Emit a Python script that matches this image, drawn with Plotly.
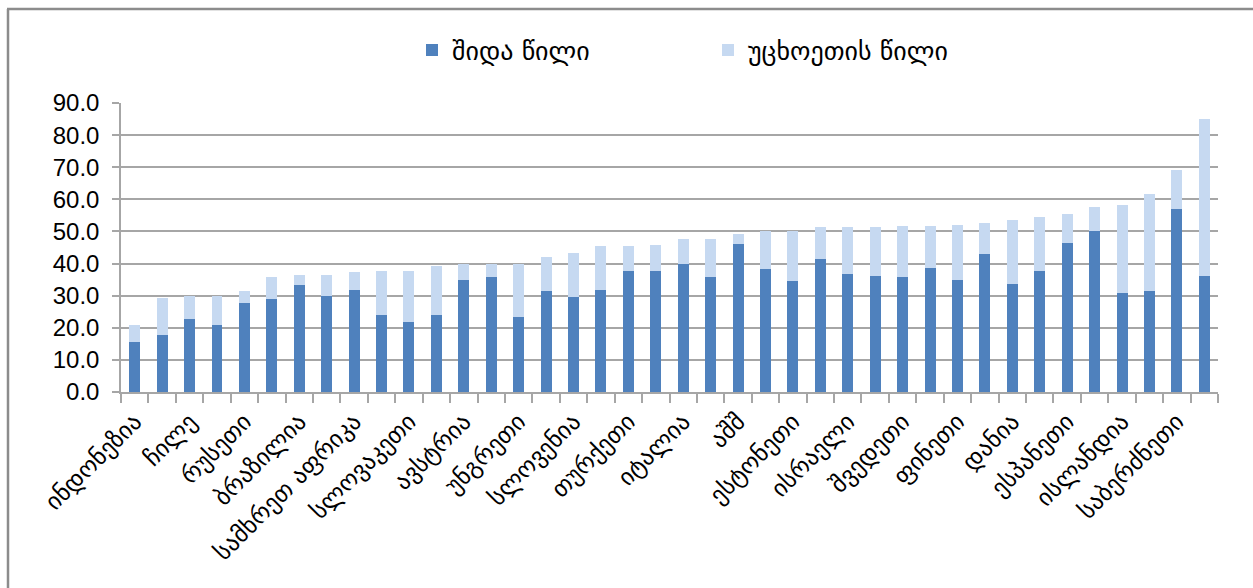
import plotly.graph_objects as go

# Labelled countries (every second bar carries a label)
labels = ["ინდონეზია", "ჩილე", "რუსეთი", "ბრაზილია", "სამხრეთ აფრიკა",
          "სლოვაკეთი", "ავსტრია", "უნგრეთი", "სლოვენია", "თურქეთი",
          "იტალია", "აშშ", "ესტონეთი", "ისრაელი", "შვედეთი",
          "ფინეთი", "დანია", "ესპანეთი", "ისლანდია", "საბერძნეთი"]

# Domestic share (dark) and total (top of light segment)
domestic = [15.6, 17.7, 22.6, 21.0, 27.8, 28.9, 33.4, 29.8, 31.7, 24.1,
            21.8, 24.0, 35.0, 35.7, 23.3, 31.3, 29.5, 31.7, 37.8, 37.8,
            39.8, 35.7, 46.2, 38.2, 34.5, 41.3, 36.9, 36.1, 35.7, 38.5,
            35.0, 43.0, 33.7, 37.8, 46.5, 50.2, 30.9, 31.3, 57.0, 36.1]
total = [20.8, 29.2, 30.0, 30.0, 31.3, 35.7, 36.5, 36.5, 37.4, 37.7,
         37.7, 39.2, 40.0, 40.0, 40.0, 42.1, 43.3, 45.4, 45.4, 45.7,
         47.7, 47.7, 49.2, 50.2, 50.2, 51.3, 51.3, 51.3, 51.7, 51.7,
         52.1, 52.6, 53.7, 54.5, 55.4, 57.7, 58.2, 61.7, 69.0, 85.0]
foreign = [round(t - d, 1) for t, d in zip(total, domestic)]

y_ticks = [0, 10, 20, 30, 40, 50, 60, 70, 80, 90]

n = len(domestic)
xs = list(range(n))
label_pos = xs[::2]

FONT = "Liberation Sans, DejaVu Sans, sans-serif"
GEO = "DejaVu Sans, sans-serif"

fig = go.Figure()
fig.add_trace(go.Bar(x=xs, y=domestic, name="შიდა წილი",
                     marker=dict(color="#4F81BD", line=dict(width=0))))
fig.add_trace(go.Bar(x=xs, y=foreign, name="უცხოეთის წილი",
                     marker=dict(color="#C6D9F1", line=dict(width=0))))

grid = "#a6a6a6"
W, H = 1253, 588
L, R, T, B = 121, 35, 103, 196
pw, ph = W - L - R, H - T - B

def px_x(p):
    return (p - L) / pw

def px_y(p):
    return (H - B - p) / ph

fig.update_layout(
    width=W, height=H,
    barmode="stack", bargap=0.6,
    margin=dict(l=L, r=R, t=T, b=B),
    paper_bgcolor="white", plot_bgcolor="white",
    font=dict(family=FONT, color="#000000"),
    showlegend=True,
    legend=dict(orientation="h", x=px_x(412), y=px_y(50),
                xanchor="left", yanchor="middle", traceorder="normal",
                font=dict(family=GEO, size=26), entrywidth=251,
                itemwidth=30, bgcolor="rgba(0,0,0,0)"),
    xaxis=dict(range=[-0.5, n - 0.5], tickmode="array",
               tickvals=label_pos, ticktext=labels, tickangle=-45,
               ticks="", showgrid=False, showline=True, linecolor=grid,
               linewidth=2, ticklabelstandoff=4,
               tickfont=dict(family=GEO, size=24, color="#000"),
               minor=dict(ticks="outside", ticklen=9, tickwidth=1.5,
                          tickcolor=grid, tick0=-0.5, dtick=1, showgrid=False)),
    yaxis=dict(range=[0, 90], tickmode="array", tickvals=y_ticks,
               ticktext=[f"{v:.1f}" for v in y_ticks],
               showgrid=True, gridcolor=grid, gridwidth=1.5,
               showline=True, linecolor=grid, linewidth=1.5,
               ticks="outside", ticklen=7, tickcolor=grid, tickwidth=1.5,
               zeroline=False, ticklabelstandoff=8,
               tickfont=dict(family=FONT, size=24, color="#000")),
    shapes=[
        dict(type="line", xref="paper", yref="paper",
             x0=px_x(8), x1=px_x(8), y0=px_y(9), y1=px_y(600),
             line=dict(color="#8c8c8c", width=2.5)),
        dict(type="line", xref="paper", yref="paper",
             x0=px_x(7), x1=px_x(1260), y0=px_y(9), y1=px_y(9),
             line=dict(color="#8c8c8c", width=2.5)),
    ],
)

fig.write_html("out.html", config={"displayModeBar": False},
               post_script="document.body.style.margin='0';")
